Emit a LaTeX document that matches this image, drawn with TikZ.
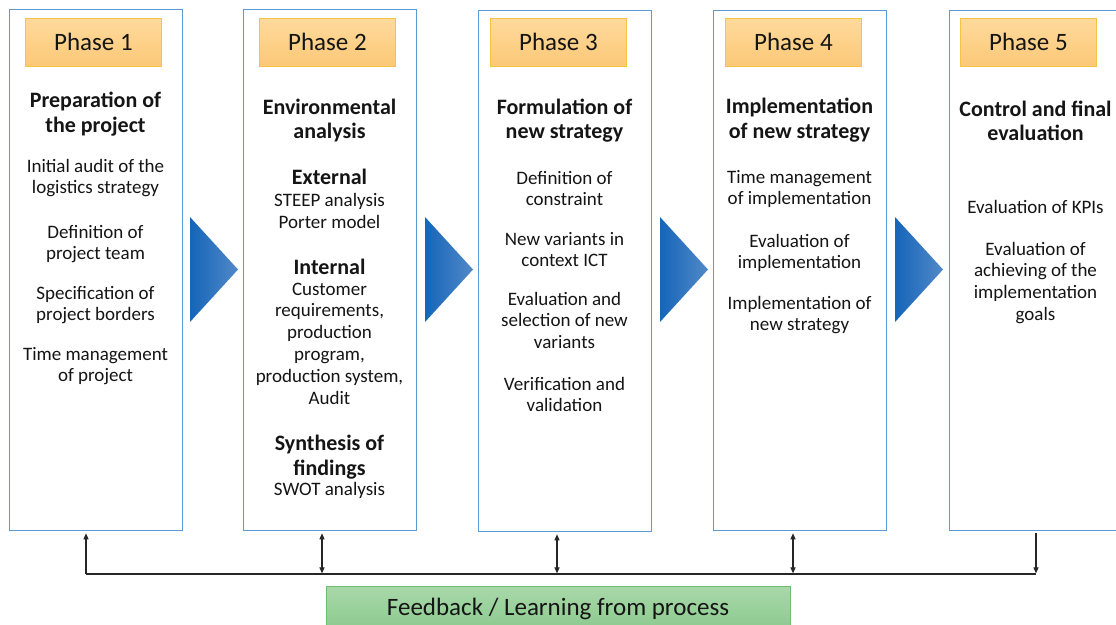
\documentclass[tikz,border=0pt]{standalone}
\usepackage{fontspec}
\setmainfont{Carlito}
\usetikzlibrary{arrows.meta}
\definecolor{boxblue}{HTML}{5B9BD5}
\definecolor{hdrtop}{HTML}{FFDA9C}
\definecolor{hdrbot}{HTML}{FBC877}
\definecolor{hdrline}{HTML}{F6C344}
\definecolor{fbtop}{HTML}{A8D8A9}
\definecolor{fbbot}{HTML}{86C789}
\definecolor{fbline}{HTML}{6FBF72}
\definecolor{arrdark}{HTML}{1565B9}
\definecolor{arrlight}{HTML}{5289C8}
\definecolor{textc}{HTML}{151515}
\newcommand\txtlines[6]{\foreach \tx [count=\i] in {#6} {\node[#5] (#1\i) at (#2,{#3+(\i-1)*#4}) {\tx};}}
\begin{document}
\begin{tikzpicture}[x=1pt,y=-1pt,
  phasebox/.style={draw=boxblue, line width=1.3pt, fill=white, anchor=north west, minimum width=173pt, minimum height=521pt, inner sep=0pt},
  hdr/.style={draw=hdrline, line width=0.8pt, top color=hdrtop, bottom color=hdrbot, anchor=north west, minimum width=136pt, minimum height=48pt, inner sep=0pt, font=\fontsize{25}{30}\selectfont, text=textc},
  fbbox/.style={draw=fbline, line width=0.8pt, top color=fbtop, bottom color=fbbot, anchor=north west, minimum width=464pt, minimum height=52pt, inner sep=0pt},
  fbtxt/.style={anchor=base, inner sep=0pt, font=\fontsize{25}{30}\selectfont, text=textc},
  txt/.style={anchor=base, inner sep=0pt, font=\fontsize{19}{22}\selectfont, text=textc},
  ttl/.style={anchor=base, inner sep=0pt, font=\fontsize{22}{26}\selectfont\bfseries, text=textc},
  conn/.style={draw=black!85, line width=1.1pt},
  tip/.style={-{Triangle[length=6pt,width=5pt]}},
  tips/.style={{Triangle[length=6pt,width=5pt]}-{Triangle[length=6pt,width=5pt]}},
  arr/.style={left color=arrdark, right color=arrlight}
]
\clip (0,0) rectangle (1116,624);
\fill[white] (0,0) rectangle (1116,624);

% phase boxes
\node[phasebox] (p1) at (9,9) {};
\node[phasebox] (p2) at (243,9) {};
\node[phasebox] (p3) at (478,10) {};
\node[phasebox, minimum height=520pt] (p4) at (713,10) {};
\node[phasebox, minimum height=520pt] (p5) at (949,10) {};

% headers
\node[hdr] (h1) at (25,18) {Phase 1};
\node[hdr] (h2) at (259,18) {Phase 2};
\node[hdr] (h3) at (490,18) {Phase 3};
\node[hdr] (h4) at (725,18) {Phase 4};
\node[hdr] (h5) at (960,18) {Phase 5};

% arrows between phases
\foreach \ax in {190,425,660,895} {
  \shade[arr] (\ax,217) -- (\ax+48,269.5) -- (\ax,322) -- cycle;
}

% box 1
\txtlines{a}{95.5}{107}{25}{ttl}{Preparation of, the project}
\txtlines{b}{95.5}{172}{21.7}{txt}{Initial audit of the, logistics strategy}
\txtlines{c}{95.5}{238}{21.7}{txt}{Definition of, project team}
\txtlines{d}{95.5}{299}{21.7}{txt}{Specification of, project borders}
\txtlines{e}{95.5}{360}{21.7}{txt}{Time management, of project}

% box 2
\txtlines{f}{329.5}{114}{24.5}{ttl}{Environmental, analysis}
\txtlines{g}{329.5}{184.3}{25}{ttl}{External}
\txtlines{h}{329.5}{206.7}{21.7}{txt}{STEEP analysis, Porter model}
\txtlines{k}{329.5}{274.3}{25}{ttl}{Internal}
\txtlines{m}{329.5}{295}{21.9}{txt}{Customer, {requirements,}, production, {program,}, {production system,}, Audit}
\txtlines{n}{329.5}{450}{25}{ttl}{Synthesis of, findings}
\txtlines{o}{329.5}{495}{21.7}{txt}{SWOT analysis}

% box 3
\txtlines{q}{564.5}{114}{24.5}{ttl}{Formulation of, new strategy}
\txtlines{r}{564.5}{184}{21.7}{txt}{Definition of, constraint}
\txtlines{s}{564.5}{245}{21.7}{txt}{New variants in, context ICT}
\txtlines{t}{564.5}{305}{21.7}{txt}{Evaluation and, selection of new, variants}
\txtlines{u}{564.5}{390}{21.7}{txt}{Verification and, validation}

% box 4
\txtlines{v}{799.5}{113}{25}{ttl}{Implementation, of new strategy}
\txtlines{w}{799.5}{183}{21.7}{txt}{Time management, of implementation}
\txtlines{x}{799.5}{247}{21.7}{txt}{Evaluation of, implementation}
\txtlines{y}{799.5}{309}{21.7}{txt}{Implementation of, new strategy}

% box 5
\txtlines{z}{1035.5}{116}{24.5}{ttl}{Control and final, evaluation}
\txtlines{za}{1035.5}{213.3}{21.7}{txt}{Evaluation of KPIs}
\txtlines{zb}{1035.5}{255}{21.7}{txt}{Evaluation of, achieving of the, implementation, goals}

% feedback box
\node[fbbox] (fb) at (326,586) {};
\node[fbtxt] (fbt) at (558,615) {Feedback / Learning from process};

% feedback connectors
\coordinate (c1) at (86,574);
\coordinate (c2) at (322,574);
\coordinate (c3) at (557,574);
\coordinate (c4) at (793,574);
\coordinate (c5) at (1036,574);
\draw[conn] (c1) -- (c5);
\draw[conn, tip, shorten >=2pt] (c1) -- (p1.south -| c1);
\draw[conn, tips, shorten >=2pt, shorten <=0.6pt] (c2) -- (p2.south -| c2);
\draw[conn, tips, shorten >=2pt, shorten <=0.6pt] (c3) -- (p3.south -| c3);
\draw[conn, tips, shorten >=2pt, shorten <=0.6pt] (c4) -- (p4.south -| c4);
\draw[conn, tip, shorten <=2pt, shorten >=0.6pt] (p5.south -| c5) -- (c5);
\end{tikzpicture}
\end{document}
